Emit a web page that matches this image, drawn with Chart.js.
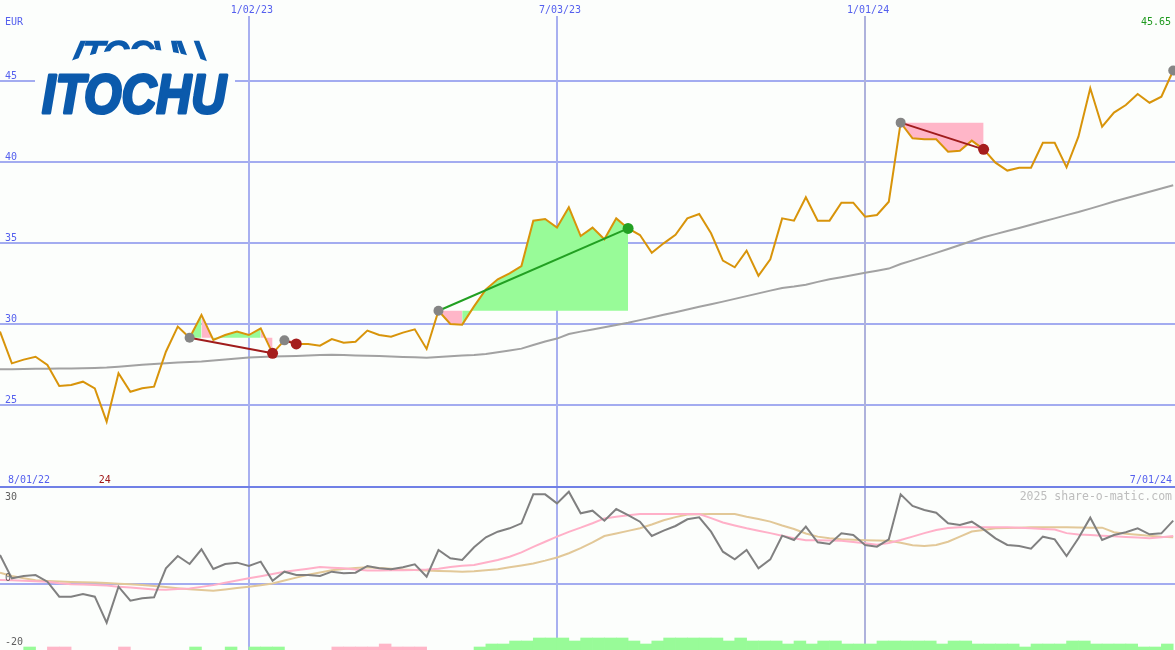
<!DOCTYPE html>
<html><head><meta charset="utf-8">
<script src="https://cdn.jsdelivr.net/npm/chart.js@4.4.1/dist/chart.umd.min.js"></script>
<style>
html,body{margin:0;padding:0;background:#fcfefc;width:1175px;height:650px;overflow:hidden}
canvas{position:absolute;left:0}
#c1{top:0}
#c2{top:486px}
</style></head><body>
<canvas id="c1" width="1175" height="486"></canvas>
<canvas id="c2" width="1175" height="164"></canvas>
<script>
// ---- data (weekly, index 0 = first week) ----
const prices = [29.53,27.57,27.8,27.98,27.47,26.17,26.23,26.44,26.03,23.97,
26.96,25.82,26.03,26.13,28.29,29.84,29.15,30.56,29.01,29.32,
29.53,29.32,29.73,28.19,28.99,28.77,28.77,28.66,29.07,28.85,
28.91,29.59,29.32,29.22,29.47,29.67,28.46,30.82,30.0,29.96,
31.09,32.14,32.76,33.13,33.58,36.38,36.48,35.95,37.2,35.43,
35.95,35.23,36.52,35.9,35.49,34.4,34.98,35.5,36.52,36.79,
35.6,33.91,33.5,34.53,32.98,33.99,36.52,36.38,37.82,36.38,
36.38,37.49,37.49,36.62,36.73,37.55,42.43,41.46,41.4,41.4,
40.64,40.7,41.32,40.78,39.96,39.47,39.65,39.65,41.19,41.19,
39.67,41.56,44.55,42.18,43.05,43.52,44.2,43.66,44.03,45.65];
const longMA = [27.20,27.21,27.22,27.23,27.24,27.25,27.26,27.27,27.29,27.31,
27.36,27.42,27.48,27.53,27.58,27.62,27.65,27.69,27.75,27.81,
27.87,27.93,27.96,27.99,28.01,28.03,28.06,28.09,28.10,28.08,
28.06,28.04,28.02,28.00,27.97,27.94,27.92,27.96,28.01,28.05,
28.08,28.15,28.25,28.36,28.48,28.70,28.92,29.10,29.38,29.53,
29.66,29.80,29.94,30.08,30.24,30.40,30.57,30.73,30.90,31.06,
31.22,31.38,31.55,31.72,31.89,32.06,32.22,32.31,32.42,32.60,
32.76,32.89,33.03,33.16,33.29,33.42,33.70,33.93,34.16,34.39,
34.63,34.88,35.12,35.35,35.55,35.74,35.93,36.13,36.33,36.52,
36.72,36.91,37.12,37.34,37.56,37.76,37.96,38.16,38.36,38.56];
const oscGray = [9.06,1.77,2.5,2.81,0.73,-3.96,-3.96,-3.13,-3.96,-12.08,
-0.83,-5.21,-4.48,-4.17,4.9,8.75,6.25,10.83,4.69,6.25,
6.67,5.63,6.98,1.04,3.85,2.81,2.81,2.5,3.85,3.33,
3.54,5.63,4.9,4.58,5.21,6.15,2.29,10.63,8.02,7.5,
11.46,14.6,16.35,17.4,18.96,28.02,28.02,25.2,28.85,22.08,
22.92,19.79,23.44,21.56,19.48,15.0,16.67,18.13,20.21,20.83,
16.35,10.1,7.71,10.63,4.9,7.71,15.1,13.75,17.92,13.02,
12.5,15.83,15.31,12.19,11.67,13.96,28.02,24.38,23.13,22.29,
18.96,18.44,19.48,17.08,14.27,12.19,11.88,11.04,14.79,13.96,
8.75,14.27,20.73,13.75,15.31,16.15,17.4,15.52,15.83,19.79];
const oscPink = [1.25,1.15,1.04,0.88,0.73,0.25,-0.05,-0.15,-0.28,-0.5,
-0.83,-1.1,-1.4,-1.7,-1.8,-1.6,-1.4,-0.9,-0.35,0.4,
1.1,1.77,2.4,3.1,3.8,4.3,4.8,5.3,5.1,4.9,
4.5,4.2,4.2,4.3,4.3,4.35,4.5,4.8,5.3,5.7,
5.94,6.7,7.5,8.5,9.9,11.6,13.2,14.8,16.3,17.6,
19.0,20.5,21.0,21.5,21.88,21.9,21.9,21.9,21.9,21.88,
20.6,19.2,18.3,17.4,16.67,15.9,15.1,14.3,13.7,13.65,
13.6,13.5,13.1,12.7,12.3,12.8,13.75,14.8,15.9,16.9,
17.5,17.7,17.7,17.7,17.7,17.7,17.6,17.4,17.2,17.0,
15.9,15.5,15.3,15.1,14.9,14.7,14.5,14.3,14.6,15.0];
const oscTan = [3.54,2.5,1.8,1.15,0.95,0.8,0.65,0.55,0.45,0.3,
0.1,-0.1,-0.3,-0.6,-0.95,-1.3,-1.65,-1.85,-2.08,-1.7,
-1.25,-0.83,-0.4,0.15,1.1,2.0,2.9,3.6,4.3,4.7,
5.0,5.2,5.0,4.8,4.55,4.4,4.25,4.1,3.95,3.85,
4.0,4.3,4.58,5.2,5.8,6.4,7.3,8.3,9.6,11.2,
13.0,15.0,15.8,16.6,17.4,18.6,19.9,20.9,21.7,21.8,
21.85,21.9,21.88,21.0,20.3,19.5,18.3,17.2,15.8,14.8,
14.3,13.95,13.8,13.7,13.6,13.5,12.9,12.1,11.9,12.2,
13.2,14.8,16.4,16.9,17.4,17.5,17.6,17.7,17.7,17.7,
17.7,17.65,17.6,17.6,16.2,15.7,15.4,15.1,14.8,14.6];
// signal bars: one per week interval (j .. j+1); sign = colour, size = strength
const signalBars = [0,0,1,0,-1,-1,0,0,0,0,
-1,0,0,0,0,0,1,0,0,1,
0,1,1,1,0,0,0,0,-1,-1,
-1,-1,-2,-1,-1,-1,0,0,0,0,
1,2,2,3,3,4,4,4,3,4,
4,4,4,3,2,3,4,4,4,4,
4,3,4,3,3,3,2,3,2,3,
3,2,2,2,3,3,3,3,3,2,
3,3,2,2,2,2,1,2,2,2,
3,3,2,2,2,2,1,1,2];
const tradeEntry = [16,24,37,76,99];
const tradeExit  = [23,25,53,83,null];
const priceTicks = [25,30,35,40,45];
const oscTicks = [30,0,-20];
const dateIdx = [21,47,73];
const dateLabels = ['1/02/23','7/03/23','1/01/24'];
const rangeLabels = ['8/01/22','7/01/24'];
const currency = 'EUR';
const logoText = 'ITOCHU';
const watermark = '2025 share-o-matic.com';

// ---- styles ----
const BG = '#fcfefc';
const BLUE_TXT = '#5560ee';
const GRID = '#a3acf0';
const GREEN_FILL = '#98fb98', PINK_FILL = '#ffb6c8';
const LOGO_BLUE = '#0b5aac';
const XMAX = 99.15;
const MONO = '"DejaVu Sans Mono", monospace';

const pts = arr => arr.map((v,i)=>({x:i,y:v}));

// ---- main chart datasets ----
const mainSets = [];
function makeRun(a,b,lvl,col){
  const d = [];
  for (let i=a;i<=b;i++) d.push({x:i,y:prices[i]});
  return {type:'line',data:d,fill:{value:lvl},backgroundColor:col,
    borderWidth:0,pointRadius:0,order:20};
}
tradeEntry.forEach((e,k)=>{
  const x = tradeExit[k];
  if (x === null) return;
  const lvl = prices[e];
  let runStart = e, runCol = null;
  for (let i=e;i<x;i++){
    const col = prices[i+1]>=lvl?GREEN_FILL:PINK_FILL;
    if (runCol === null) runCol = col;
    if (col !== runCol){
      mainSets.push(makeRun(runStart,i,lvl,runCol));
      runStart = i; runCol = col;
    }
  }
  mainSets.push(makeRun(runStart,x,lvl,runCol));
});
mainSets.push({type:'line',data:pts(longMA),borderColor:'#a2a2a2',borderWidth:2,pointRadius:0,fill:false,order:8});
mainSets.push({type:'line',data:pts(prices),borderColor:'#d8940a',borderWidth:2,pointRadius:0,fill:false,order:6});
tradeEntry.forEach((e,k)=>{
  const x = tradeExit[k];
  if (x === null) return;
  const win = prices[x] > prices[e];
  mainSets.push({type:'line',data:[{x:e,y:prices[e]},{x:x,y:prices[x]}],
    borderColor: win?'#22a022':'#a01c1c',borderWidth:2,pointRadius:0,fill:false,order:4});
});
mainSets.push({type:'scatter',data:tradeEntry.map(e=>({x:e,y:prices[e]})),
  pointRadius:5,pointBackgroundColor:'#858585',pointBorderWidth:0,order:2});
const exits = tradeExit.filter(v=>v!==null);
const closedEntries = tradeEntry.filter((e,k)=>tradeExit[k]!==null);
mainSets.push({type:'scatter',data:exits.map(x=>({x:x,y:prices[x]})),
  pointRadius:5.5,pointBorderWidth:0,
  pointBackgroundColor: closedEntries.map((e,k)=>prices[exits[k]]>prices[e]?'#22a022':'#a51d1d'),
  order:1});

function drawVLines(chart, top){
  const ctx = chart.ctx, xs = chart.scales.x;
  ctx.save();
  dateIdx.forEach((d,k)=>{
    const px = Math.round(xs.getPixelForValue(d));
    ctx.fillStyle = k===2 ? '#aeb2dc' : '#a8b0f0';
    ctx.fillRect(px-1, top, 2, chart.height-top);
  });
  ctx.restore();
}

function drawLogo(ctx){
  ctx.save();
  ctx.fillStyle = BG;
  ctx.fillRect(35,33,200,84);
  ctx.fillStyle = LOGO_BLUE;
  ctx.strokeStyle = LOGO_BLUE;
  ctx.lineJoin = 'round';
  ctx.textBaseline = 'alphabetic';
  // main word
  ctx.font = 'italic bold 55px "Liberation Sans", Arial, sans-serif';
  const w = ctx.measureText(logoText).width;
  ctx.save();
  ctx.translate(42,113); ctx.scale(184/w,1);
  ctx.lineWidth = 3;
  ctx.fillText(logoText,0,0);
  ctx.strokeText(logoText,0,0);
  ctx.restore();
  // fanned upper band
  ctx.save();
  ctx.beginPath();
  ctx.moveTo(55,38); ctx.quadraticCurveTo(138,42,222,38);
  ctx.lineTo(222,67); ctx.quadraticCurveTo(138,31,55,67);
  ctx.closePath(); ctx.clip();
  ctx.font = 'bold 44px "Liberation Sans", Arial, sans-serif';
  const chars = [...logoText];
  const ws = chars.map(ch=>ctx.measureText(ch).width);
  const tot = ws.reduce((a,b)=>a+b,0);
  const sx = 148/tot, yb = 71, cx = 139;
  let xb = 65;
  chars.forEach((ch,i)=>{
    const wch = ws[i]*sx;
    const c = 0.0062*((xb+wch/2)-cx);
    ctx.save();
    ctx.transform(sx,0,c,1,xb - c*yb,0);
    ctx.fillText(ch,0,yb);
    ctx.restore();
    xb += wch;
  });
  ctx.restore();
  ctx.restore();
}

const mainDeco = {
  id:'mainDeco',
  beforeDatasetsDraw(chart){
    drawVLines(chart,16);
    drawLogo(chart.ctx);
  },
  afterDraw(chart){
    const ctx = chart.ctx, xs = chart.scales.x, ys = chart.scales.y;
    ctx.save();
    ctx.font = '10px ' + MONO;
    ctx.textBaseline = 'alphabetic';
    ctx.fillStyle = BLUE_TXT;
    ctx.textAlign = 'left';
    ctx.fillText(currency,5,25);
    priceTicks.forEach(v=>ctx.fillText(String(v),5,Math.round(ys.getPixelForValue(v))-2));
    ctx.textAlign = 'center';
    dateIdx.forEach((d,k)=>ctx.fillText(dateLabels[k],xs.getPixelForValue(d)+3,13));
    ctx.textAlign = 'left';
    ctx.fillText(rangeLabels[0],8,483);
    ctx.textAlign = 'right';
    ctx.fillText(rangeLabels[1],1172,483);
    ctx.fillStyle = '#1f9a1f';
    ctx.fillText(prices[prices.length-1].toFixed(2),1171,25);
    let mi = 0; prices.forEach((v,i)=>{ if (v<prices[mi]) mi=i; });
    ctx.fillStyle = '#a01818';
    ctx.textAlign = 'center';
    ctx.fillText(String(Math.round(prices[mi])),xs.getPixelForValue(mi)-2,483);
    ctx.restore();
  }
};

const zeroWidth = s => { s.width = 0; };
const zeroHeight = s => { s.height = 0; };

new Chart(document.getElementById('c1'),{
  type:'line',
  data:{datasets:mainSets},
  options:{
    responsive:false,animation:false,devicePixelRatio:1,
    layout:{padding:0,autoPadding:false},
    plugins:{legend:{display:false},tooltip:{enabled:false}},
    scales:{
      x:{type:'linear',min:0,max:XMAX,offset:false,display:false,afterFit:zeroHeight},
      y:{type:'linear',min:20,max:50,display:true,afterFit:zeroWidth,
         afterBuildTicks:s=>{ s.ticks = priceTicks.map(v=>({value:v})); },
         ticks:{display:false},border:{display:false},
         grid:{color:GRID,lineWidth:2,drawTicks:false}}
    }
  },
  plugins:[mainDeco]
});

// ---- oscillator panel ----
const barPts = [], barCols = [];
signalBars.forEach((v,j)=>{ if (v!==0){ barPts.push({x:j+0.5,y:Math.abs(v)}); barCols.push(v>0?GREEN_FILL:PINK_FILL);} });

const oscDeco = {
  id:'oscDeco',
  beforeDatasetsDraw(chart){ drawVLines(chart,0); },
  afterDraw(chart){
    const ctx = chart.ctx, ys = chart.scales.y;
    ctx.save();
    ctx.fillStyle = '#7080e6';
    ctx.fillRect(0,0,chart.width,2);
    ctx.font = '10px ' + MONO;
    ctx.fillStyle = '#606060';
    ctx.textAlign = 'left';
    oscTicks.forEach(v=>{
      const py = ys.getPixelForValue(v);
      ctx.fillText(String(v),5, v>0 ? py+12 : py-3);
    });
    ctx.font = '11.5px ' + MONO;
    ctx.fillStyle = '#bdbdbd';
    ctx.textAlign = 'right';
    ctx.fillText(watermark,1172,14);
    ctx.restore();
  }
};

new Chart(document.getElementById('c2'),{
  type:'line',
  data:{datasets:[
    {type:'line',data:pts(oscGray),borderColor:'#808080',borderWidth:2,pointRadius:0,fill:false,order:1},
    {type:'line',data:pts(oscPink),borderColor:'#ffb0c8',borderWidth:2,pointRadius:0,fill:false,order:2},
    {type:'line',data:pts(oscTan),borderColor:'#e2c898',borderWidth:2,pointRadius:0,fill:false,order:3},
    {type:'bar',yAxisID:'yb',data:barPts,backgroundColor:barCols,borderWidth:0,
     barPercentage:1,categoryPercentage:1,grouped:false,order:10}
  ]},
  options:{
    responsive:false,animation:false,devicePixelRatio:1,
    layout:{padding:0,autoPadding:false},
    plugins:{legend:{display:false},tooltip:{enabled:false}},
    scales:{
      x:{type:'linear',min:0,max:XMAX,offset:false,display:false,afterFit:zeroHeight},
      y:{type:'linear',min:-20.625,max:30.625,display:true,afterFit:zeroWidth,
         afterBuildTicks:s=>{ s.ticks = [{value:0}]; },
         ticks:{display:false},border:{display:false},
         grid:{color:GRID,lineWidth:2,drawTicks:false}},
      yb:{type:'linear',min:0,max:164/3,display:false}
    }
  },
  plugins:[oscDeco]
});
</script>
</body></html>
